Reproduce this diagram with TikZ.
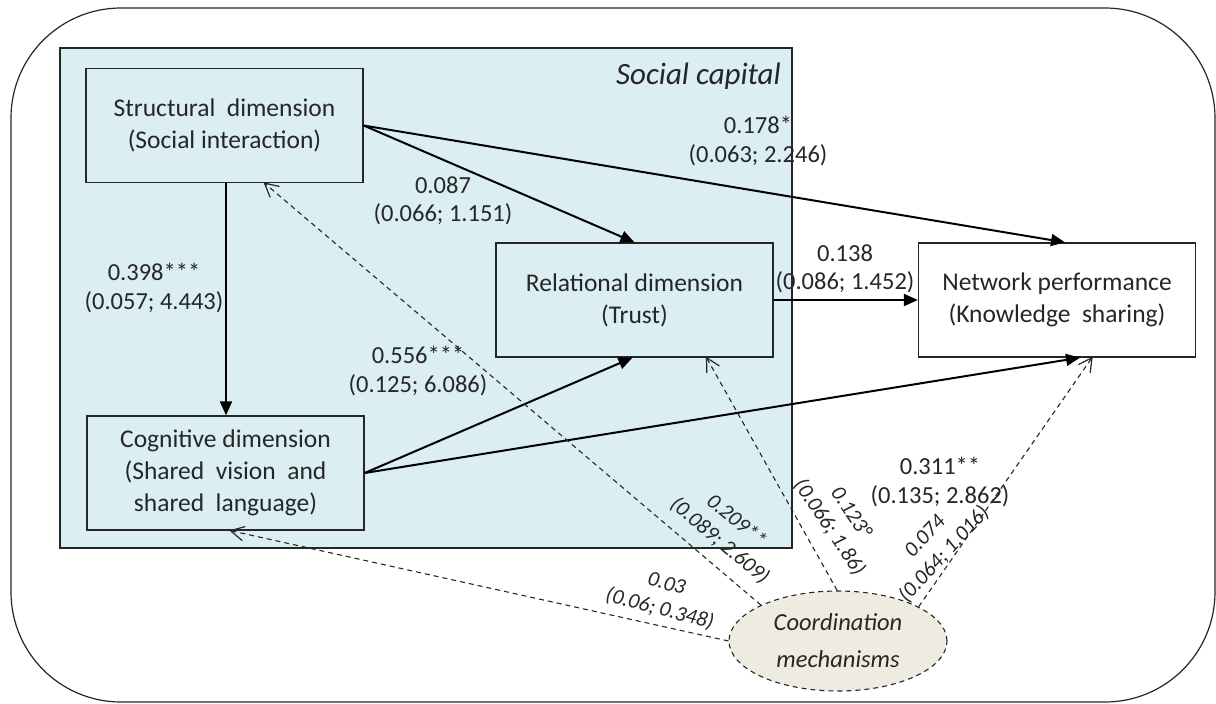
\documentclass[tikz,border=0pt]{standalone}
\usepackage{fontspec}
\setmainfont{Carlito}
\usetikzlibrary{arrows.meta,shapes.geometric,calc}
\definecolor{scblue}{HTML}{DBEEF3}
\definecolor{cmbeige}{HTML}{EEECE1}
\definecolor{ink}{HTML}{262626}
\begin{document}
\begin{tikzpicture}[x=1pt,y=-1pt,
  box/.style={draw=ink, line width=1.3pt, rectangle, minimum width=277pt, minimum height=114pt,
    align=center, text=ink, font=\fontsize{25.5}{32}\selectfont, inner sep=0pt},
  solidarr/.style={draw=black, line width=2pt, -{Triangle[length=14pt,width=12pt]}},
  dline/.style={draw=ink, line width=1.1pt, dash pattern=on 5pt off 4pt},
  dtip/.style={draw=ink, line width=1.2pt, solid, line cap=round, line join=miter},
  lab/.style={font=\fontsize{24.5}{28.5}\selectfont, align=center, text=ink, inner sep=0pt},
  ilab/.style={font=\itshape\fontsize{21.5}{26}\selectfont, align=center, text=ink, inner sep=0pt}]
\useasboundingbox (0,0) rectangle (1216,704);
\draw[ink, line width=1.2pt, rounded corners=110pt] (11,8) rectangle (1215,702);
\draw[ink, fill=scblue, line width=1.3pt] (60,48) rectangle (792,548);
\node[font=\itshape\fontsize{31}{36}\selectfont, text=ink, anchor=east, inner sep=0pt] (sc) at (781,76) {Social capital};

\node[box] (S) at (224.5,125.5) {Structural\ \ dimension\\(Social interaction)};
\node[box] (C) at (225.5,473) {Cognitive dimension\\(Shared\ \ vision\ \ and\\shared\ \ language)};
\node[box] (R) at (634.5,300) {Relational dimension\\(Trust)};
\node[box, fill=white] (N) at (1057,300) {Network performance\\(Knowledge\ \ sharing)};
\node[ellipse, draw=ink, fill=cmbeige, line width=1.1pt, dash pattern=on 5pt off 4pt,
  minimum width=218pt, minimum height=100pt, inner sep=0pt, align=center, text=ink,
  font=\itshape\fontsize{24.5}{37}\selectfont] (E) at (838,641) {Coordination\\mechanisms};

\draw[solidarr] (S.south -| 226,0) -- (C.north -| 226,0);
\draw[solidarr] (S.east) -- (R.north);
\draw[solidarr] (S.east) -- ([xshift=8pt]N.north);
\draw[solidarr] (R.east) -- (N.west);
\draw[solidarr] (C.east) -- ([xshift=-2pt]R.south);
\draw[solidarr] (C.east) -- ([xshift=23pt]N.south);

\coordinate (tC) at ([xshift=5pt]C.south);
\coordinate (tS) at ([xshift=40pt]S.south);
\coordinate (tR) at ([xshift=72pt]R.south);
\coordinate (tN) at ([xshift=35pt]N.south);
\coordinate (eC) at (E.west);
\coordinate (eS) at (E.155);
\coordinate (eR) at (E.91);
\coordinate (eN) at (E.23);
\foreach \a/\b in {eC/tC, eS/tS, eR/tR, eN/tN} {
  \draw[dline] (\a) -- (\b);
  \draw[dtip] ($(\b)!15pt!28:(\a)$) -- (\b) -- ($(\b)!15pt!-28:(\a)$);
}

\node[lab] (l1) at (154,288) {0.398***\\(0.057; 4.443)};
\node[lab] (l2) at (443,201) {0.087\\(0.066; 1.151)};
\node[lab] (l3) at (758,141) {0.178*\\(0.063; 2.246)};
\node[lab] (l4) at (845,269) {0.138\\(0.086; 1.452)};
\node[lab] (l5) at (418,371) {0.556***\\(0.125; 6.086)};
\node[lab] (l6) at (940,482) {0.311**\\(0.135; 2.862)};

\node[ilab, rotate=-15] (d1) at (663,597) {0.03\\(0.06; 0.348)};
\node[ilab, rotate=-40] (d2) at (728,531) {0.209**\\(0.089; 2.609)};
\node[ilab, rotate=-56] (d3) at (840,520) {0.123°\\(0.066; 1.86)};
\node[ilab, rotate=47] (d4) at (935,546) {0.074\\(0.064; 1.016)};
\end{tikzpicture}
\end{document}
